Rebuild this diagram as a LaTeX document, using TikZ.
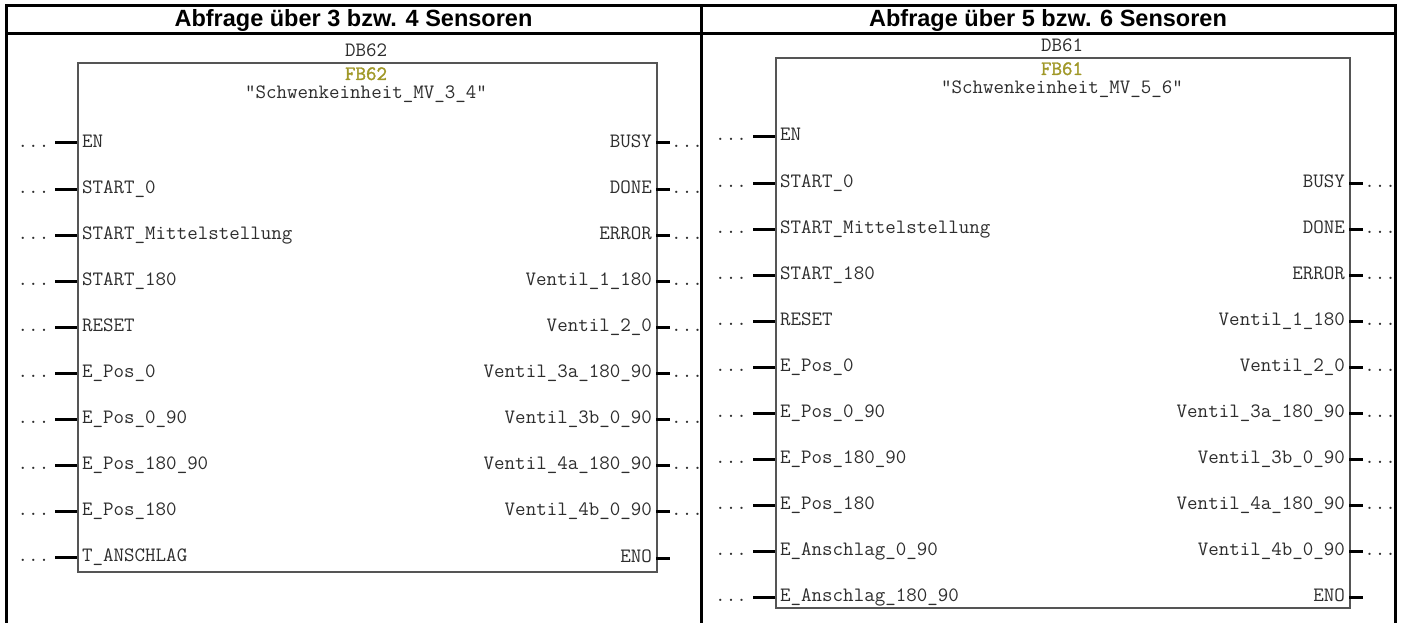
\documentclass[tikz,border=0pt]{standalone}
\usepackage{fontspec}
\setmainfont{Liberation Sans}
\newfontfamily\fbfont{Latin Modern Mono}[FakeBold=1.6]
\definecolor{fbcol}{RGB}{160,152,40}
\definecolor{boxgray}{RGB}{85,85,85}
\definecolor{txtgray}{RGB}{45,45,45}
\begin{document}
\begin{tikzpicture}[x=1pt,y=-1pt,
  rule/.style={line width=3pt,black},
  fbbox/.style={draw=boxgray,line width=1.6pt,fill=none,inner sep=0pt,anchor=north west},
  plc/.style={font=\ttfamily\fontsize{20.4}{20.4}\selectfont,text=txtgray,inner sep=0pt},
  inlabel/.style={plc,anchor=base west},
  outlabel/.style={plc,anchor=base east},
  midlabel/.style={plc,anchor=base},
  fbname/.style={plc,anchor=base,text=fbcol,font=\fbfont\fontsize{20.4}{20.4}\selectfont},
  dots/.style={plc,anchor=base},
  pin/.style={line width=3pt,black},
  head/.style={anchor=base,inner sep=0pt,font=\bfseries\fontsize{23.5}{24}\selectfont}]
\useasboundingbox (0,0) rectangle (1403,623);

% table frame with two columns and a header row
\draw[rule] (6.5,623) -- (6.5,5.5) -- (1395,5.5) -- (1395,623);
\draw[rule] (6.5,33.5) -- (1395,33.5);
\draw[rule] (701,5.5) -- (701,623);
\node[head] (h1) at (353.5,27) {Abfrage über 3 bzw. 4 Sensoren};
\node[head] (h2) at (1048,27) {Abfrage über 5 bzw. 6 Sensoren};

% ---------- block FB62 ----------
\node[fbbox,minimum width=579pt,minimum height=509pt] (L) at (77,62) {};
\node[midlabel] (Ldb) at (366,57) {DB62};
\node[fbname] (Lfb) at (366,80) {FB62};
\node[midlabel] (Lname) at (366,98.5) {"Schwenkeinheit\_MV\_3\_4"};
\foreach \t [count=\i from 0] in {EN,START\_0,START\_Mittelstellung,START\_180,RESET,E\_Pos\_0,E\_Pos\_0\_90,E\_Pos\_180\_90,E\_Pos\_180,T\_ANSCHLAG}{
  \pgfmathsetmacro\yy{143+46.1*\i}
  \node[dots] (Ld\i) at (33.5,\yy+4) {...};
  \coordinate (Lp\i) at (55,\yy);
  \coordinate (Le\i) at (77,\yy);
  \draw[pin] (Lp\i) -- (Le\i);
  \node[inlabel] (Li\i) at (82,\yy+4) {\t};
}
\foreach \t [count=\i from 0] in {BUSY,DONE,ERROR,Ventil\_1\_180,Ventil\_2\_0,Ventil\_3a\_180\_90,Ventil\_3b\_0\_90,Ventil\_4a\_180\_90,Ventil\_4b\_0\_90}{
  \pgfmathsetmacro\yy{143+46.1*\i}
  \node[outlabel] (Lo\i) at (652,\yy+4) {\t};
  \coordinate (Lq\i) at (656,\yy);
  \coordinate (Lr\i) at (670,\yy);
  \draw[pin] (Lq\i) -- (Lr\i);
  \node[dots] (Lod\i) at (687,\yy+4) {...};
}
\node[outlabel] (Leno) at (652,562) {ENO};
\coordinate (Lq9) at (656,558);
\coordinate (Lr9) at (670,558);
\draw[pin] (Lq9) -- (Lr9);

% ---------- block FB61 ----------
\node[fbbox,minimum width=574pt,minimum height=550pt] (R) at (775,57) {};
\node[midlabel] (Rdb) at (1062,51.5) {DB61};
\node[fbname] (Rfb) at (1062,75) {FB61};
\node[midlabel] (Rname) at (1062,94) {"Schwenkeinheit\_MV\_5\_6"};
\foreach \t [count=\i from 0] in {EN,START\_0,START\_Mittelstellung,START\_180,RESET,E\_Pos\_0,E\_Pos\_0\_90,E\_Pos\_180\_90,E\_Pos\_180,E\_Anschlag\_0\_90,E\_Anschlag\_180\_90}{
  \pgfmathsetmacro\yy{137+46*\i}
  \node[dots] (Rd\i) at (731,\yy+4) {...};
  \coordinate (Rp\i) at (753,\yy);
  \coordinate (Re\i) at (775,\yy);
  \draw[pin] (Rp\i) -- (Re\i);
  \node[inlabel] (Ri\i) at (780,\yy+4) {\t};
}
\foreach \t [count=\i from 1] in {BUSY,DONE,ERROR,Ventil\_1\_180,Ventil\_2\_0,Ventil\_3a\_180\_90,Ventil\_3b\_0\_90,Ventil\_4a\_180\_90,Ventil\_4b\_0\_90}{
  \pgfmathsetmacro\yy{137+46*\i}
  \node[outlabel] (Ro\i) at (1345,\yy+4) {\t};
  \coordinate (Rq\i) at (1349,\yy);
  \coordinate (Rr\i) at (1363,\yy);
  \draw[pin] (Rq\i) -- (Rr\i);
  \node[dots] (Rod\i) at (1380,\yy+4) {...};
}
\node[outlabel] (Reno) at (1345,601) {ENO};
\coordinate (Rq10) at (1349,597);
\coordinate (Rr10) at (1363,597);
\draw[pin] (Rq10) -- (Rr10);
\end{tikzpicture}
\end{document}
